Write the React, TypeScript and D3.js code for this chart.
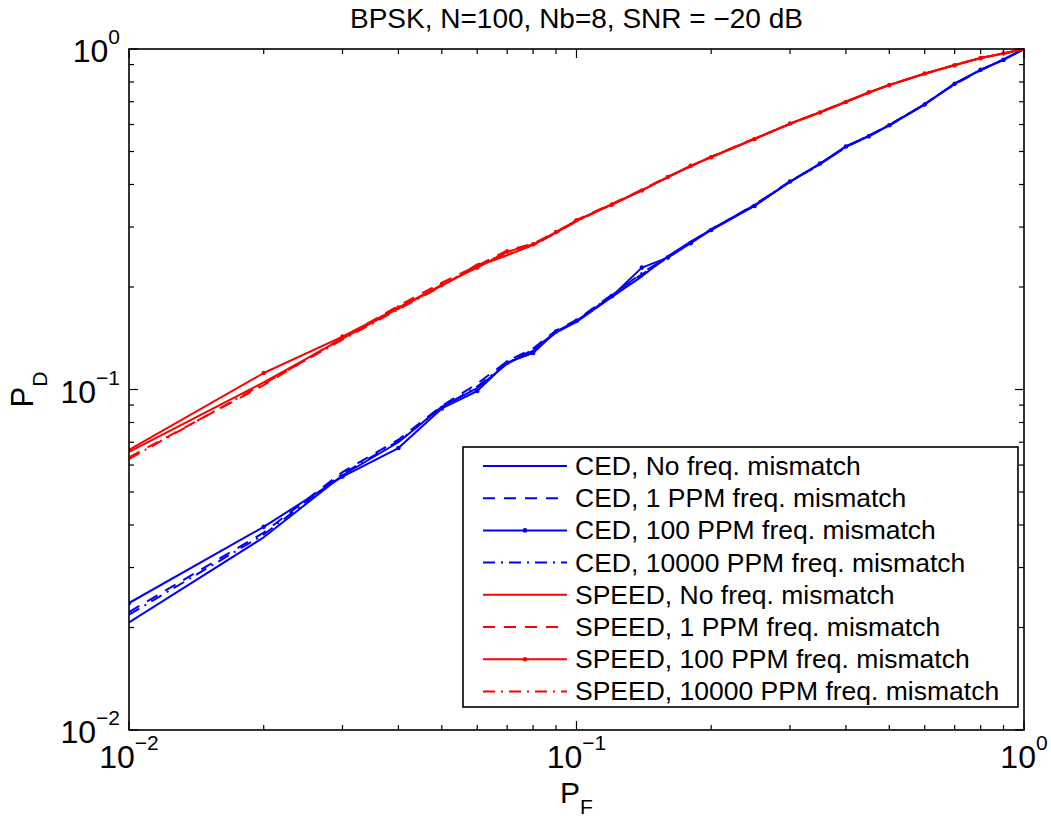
import React from "react";
import * as d3 from "d3";

const pf = [0.01, 0.02, 0.03, 0.04, 0.05, 0.06, 0.07, 0.08, 0.09, 0.1, 0.12, 0.14, 0.16, 0.18, 0.2, 0.25, 0.3, 0.35, 0.4, 0.45, 0.5, 0.6, 0.7, 0.8, 0.9, 1.0];

const cedNo = [0.0207, 0.0368, 0.056, 0.07, 0.089, 0.101, 0.119, 0.13, 0.147, 0.158, 0.187, 0.215, 0.246, 0.272, 0.295, 0.348, 0.407, 0.46, 0.518, 0.556, 0.598, 0.688, 0.792, 0.868, 0.93, 1.0];
const ced1 = [0.0222, 0.038, 0.0572, 0.0712, 0.0895, 0.104, 0.121, 0.132, 0.149, 0.16, 0.19, 0.218, 0.244, 0.27, 0.296, 0.347, 0.409, 0.459, 0.515, 0.555, 0.596, 0.69, 0.788, 0.866, 0.932, 1.0];
const ced100 = [0.0236, 0.0395, 0.0555, 0.0673, 0.088, 0.099, 0.12, 0.128, 0.148, 0.159, 0.188, 0.228, 0.244, 0.269, 0.294, 0.346, 0.408, 0.461, 0.517, 0.554, 0.597, 0.687, 0.79, 0.869, 0.929, 1.0];
const ced10000 = [0.0218, 0.0375, 0.0565, 0.0705, 0.0885, 0.102, 0.1195, 0.131, 0.1475, 0.159, 0.189, 0.22, 0.245, 0.271, 0.295, 0.349, 0.408, 0.458, 0.516, 0.557, 0.599, 0.689, 0.791, 0.867, 0.931, 1.0];

const speedNo = [0.0656, 0.105, 0.141, 0.173, 0.202, 0.23, 0.248, 0.266, 0.289, 0.313, 0.35, 0.385, 0.42, 0.453, 0.482, 0.545, 0.603, 0.652, 0.7, 0.745, 0.784, 0.846, 0.897, 0.941, 0.97, 1.0];
const speed1 = [0.0632, 0.103, 0.142, 0.176, 0.206, 0.231, 0.256, 0.268, 0.29, 0.315, 0.351, 0.386, 0.422, 0.452, 0.483, 0.546, 0.602, 0.653, 0.701, 0.744, 0.785, 0.845, 0.898, 0.942, 0.969, 1.0];
const speed100 = [0.0665, 0.1118, 0.143, 0.174, 0.203, 0.228, 0.254, 0.267, 0.29, 0.314, 0.349, 0.384, 0.421, 0.454, 0.481, 0.544, 0.604, 0.651, 0.699, 0.746, 0.783, 0.847, 0.896, 0.94, 0.971, 1.0];
const speed10000 = [0.0625, 0.104, 0.14, 0.172, 0.201, 0.233, 0.25, 0.265, 0.288, 0.312, 0.35, 0.385, 0.42, 0.453, 0.482, 0.545, 0.603, 0.652, 0.7, 0.745, 0.784, 0.846, 0.897, 0.941, 0.97, 1.0];

const seriesNames = [
  "CED, No freq. mismatch",
  "CED, 1 PPM freq. mismatch",
  "CED, 100 PPM freq. mismatch",
  "CED, 10000 PPM freq. mismatch",
  "SPEED, No freq. mismatch",
  "SPEED, 1 PPM freq. mismatch",
  "SPEED, 100 PPM freq. mismatch",
  "SPEED, 10000 PPM freq. mismatch",
];
const seriesValues = [cedNo, ced1, ced100, ced10000, speedNo, speed1, speed100, speed10000];
const seriesColors = ["#0000ff", "#0000ff", "#0000ff", "#0000ff", "#ff0000", "#ff0000", "#ff0000", "#ff0000"];
const seriesDash = ["", "12,9", "", "12,6,2,6", "", "12,9", "", "12,6,2,6"];
const seriesMarker = [false, false, true, false, false, false, true, false];

const decadeTicks = [0.01, 0.1, 1];
const decadeExp = ["\u22122", "\u22121", "0"];

const W = 1051, H = 818;
const L = 129, R = 1024, T = 49, B = 730;
const FONT = "'Liberation Sans', Arial, Helvetica, sans-serif";

export default function App() {
  const x = d3.scaleLog().domain([0.01, 1]).range([L, R]);
  const y = d3.scaleLog().domain([0.01, 1]).range([B, T]);
  const minor: number[] = [];
  for (const d of [0.01, 0.1]) for (let k = 2; k <= 9; k++) minor.push(d * k);

  const line = d3.line<[number, number]>().x((d) => x(d[0])).y((d) => y(d[1]));

  const legX = 463, legY = 447, legW = 555, legH = 260;
  const rowH = 32.2;

  return (
    <svg width={W} height={H} style={{ position: "absolute", left: 0, top: 0, background: "#fff" }} fontFamily={FONT}>
      <defs>
        <clipPath id="plotclip">
          <rect x={L} y={T} width={R - L} height={B - T} />
        </clipPath>
      </defs>
      <rect x={0} y={0} width={W} height={H} fill="#fff" />
      <rect x={L} y={T} width={R - L} height={B - T} fill="#fff" />

      {/* data */}
      <g clipPath="url(#plotclip)">
        {seriesValues.map((vals, i) => {
          const pts = pf.map((p, j) => [p, vals[j]] as [number, number]);
          return (
            <g key={i}>
              <path d={line(pts) || ""} fill="none" stroke={seriesColors[i]} strokeWidth={2}
                strokeDasharray={seriesDash[i] || undefined} strokeLinejoin="round" />
              {seriesMarker[i] && pts.map((p, j) => (
                <circle key={j} cx={x(p[0])} cy={y(p[1])} r={2.3} fill={seriesColors[i]} />
              ))}
            </g>
          );
        })}
      </g>

      {/* ticks */}
      <g stroke="#000" strokeWidth={1.2}>
        {decadeTicks.map((t, i) => (
          <g key={"M" + i}>
            <line x1={x(t)} x2={x(t)} y1={B} y2={B - 9} />
            <line x1={x(t)} x2={x(t)} y1={T} y2={T + 9} />
            <line x1={L} x2={L + 9} y1={y(t)} y2={y(t)} />
            <line x1={R} x2={R - 9} y1={y(t)} y2={y(t)} />
          </g>
        ))}
        {minor.map((t, i) => (
          <g key={"m" + i}>
            <line x1={x(t)} x2={x(t)} y1={B} y2={B - 5} />
            <line x1={x(t)} x2={x(t)} y1={T} y2={T + 5} />
            <line x1={L} x2={L + 5} y1={y(t)} y2={y(t)} />
            <line x1={R} x2={R - 5} y1={y(t)} y2={y(t)} />
          </g>
        ))}
      </g>
      <rect x={L} y={T} width={R - L} height={B - T} fill="none" stroke="#000" strokeWidth={1.6} />

      {/* x tick labels */}
      {decadeTicks.map((t, i) => (
        <text key={"xl" + i} x={x(t)} y={768} textAnchor="middle" fontSize={32} fill="#000">
          10<tspan dy={-18} fontSize={21}>{decadeExp[i]}</tspan>
        </text>
      ))}
      {/* y tick labels */}
      {decadeTicks.map((t, i) => (
        <text key={"yl" + i} x={120} y={y(t) + 13} textAnchor="end" fontSize={32} fill="#000">
          10<tspan dy={-18} fontSize={21}>{decadeExp[i]}</tspan>
        </text>
      ))}

      {/* axis labels */}
      <text x={(L + R) / 2} y={803} textAnchor="middle" fontSize={30} fill="#000">
        P<tspan dy={11} fontSize={21}>F</tspan>
      </text>
      <text transform={`translate(33,${(T + B) / 2}) rotate(-90)`} textAnchor="middle" fontSize={31} fill="#000">
        P<tspan dy={14} fontSize={21}>D</tspan>
      </text>

      {/* title */}
      <text x={(L + R) / 2} y={28} textAnchor="middle" fontSize={28} fill="#000">
        BPSK, N=100, Nb=8, SNR = {"\u2212"}20 dB
      </text>

      {/* legend */}
      <rect x={legX} y={legY} width={legW} height={legH} fill="#fff" stroke="#000" strokeWidth={1.6} />
      {seriesNames.map((n, i) => {
        const cy = legY + 19 + i * rowH;
        return (
          <g key={"lg" + i}>
            <line x1={legX + 20} x2={legX + 104} y1={cy} y2={cy} stroke={seriesColors[i]} strokeWidth={2}
              strokeDasharray={seriesDash[i] || undefined} />
            {seriesMarker[i] && <circle cx={legX + 62} cy={cy} r={2.3} fill={seriesColors[i]} />}
            <text x={legX + 112} y={cy + 9} fontSize={26.5} fill="#000">{n}</text>
          </g>
        );
      })}
    </svg>
  );
}
